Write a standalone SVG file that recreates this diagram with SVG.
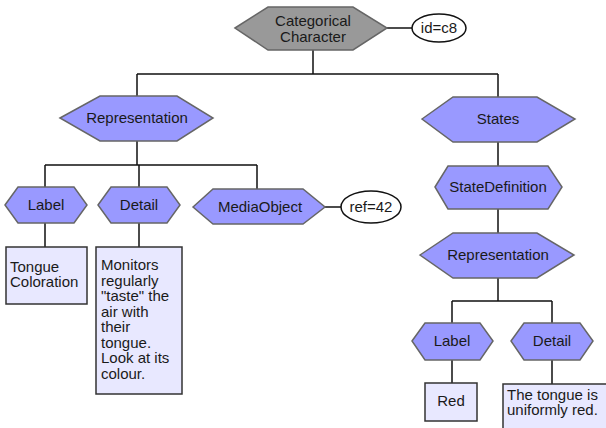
<svg xmlns="http://www.w3.org/2000/svg" width="606" height="428" viewBox="0 0 606 428">
<style>
.hex{fill:#9999ff;stroke:#666;stroke-width:1.5}
.top{fill:#999;stroke:#666;stroke-width:1.5}
.box{fill:#e8e8ff;stroke:#333;stroke-width:1.5}
.ell{fill:#fff;stroke:#111;stroke-width:1.5}
.t{font-family:"Liberation Sans",Arial,sans-serif;font-size:15px;fill:#1a1a1a}
.c{text-anchor:middle}
.ln{stroke:#111;stroke-width:1.5;fill:none}
</style>
<rect width="606" height="428" fill="#fff"/>
<g id="connectors">
<path class="ln" d="M387,28H412"/>
<path class="ln" d="M313,50V74M137,74H498M137,74V96M498,74V97"/>
<path class="ln" d="M137,141V165M45,165H257M45,165V187M139,165V187M257,165V189"/>
<path class="ln" d="M325,207H341"/>
<path class="ln" d="M45,223V247M139,223V247"/>
<path class="ln" d="M498,142V166M498,209V233M498,278V301M452,301H552M452,301V323M552,301V323"/>
<path class="ln" d="M452,360V383M552,360V384"/>
</g>
<g id="categorical">
<polygon class="top" points="235,28 268,7 353,7 387,28 353,50 268,50"/>
<text class="t c" x="313" y="26">Categorical</text>
<text class="t c" x="313" y="42">Character</text>
</g>
<g id="id-c8">
<ellipse class="ell" cx="439" cy="28" rx="27" ry="14"/>
<text class="t c" x="439" y="33">id=c8</text>
</g>
<g id="representation1">
<polygon class="hex" points="60,118 100,96 177,96 213,118 177,141 100,141"/>
<text class="t c" x="137" y="123">Representation</text>
</g>
<g id="label1">
<polygon class="hex" points="5,205 18,187 74,187 87,205 74,223 18,223"/>
<text class="t c" x="46" y="210">Label</text>
</g>
<g id="detail1">
<polygon class="hex" points="98,205 111,187 167,187 180,205 167,223 111,223"/>
<text class="t c" x="139" y="210">Detail</text>
</g>
<g id="mediaobject">
<polygon class="hex" points="193,207 213,189 303,189 325,207 303,224 213,224"/>
<text class="t c" x="260" y="212">MediaObject</text>
</g>
<g id="ref-42">
<ellipse class="ell" cx="371" cy="207" rx="30" ry="16"/>
<text class="t c" x="371" y="212">ref=42</text>
</g>
<g id="box-tongue">
<rect class="box" x="6" y="247" width="81" height="57"/>
<text class="t" x="10" y="271.5">Tongue</text>
<text class="t" x="10" y="287">Coloration</text>
</g>
<g id="box-monitors">
<rect class="box" x="96" y="247" width="86" height="147"/>
<text class="t" x="101" y="270">Monitors</text>
<text class="t" x="101" y="285.5">regularly</text>
<text class="t" x="101" y="301">"taste" the</text>
<text class="t" x="101" y="316.5">air with</text>
<text class="t" x="101" y="332">their</text>
<text class="t" x="101" y="347.5">tongue.</text>
<text class="t" x="101" y="363">Look at its</text>
<text class="t" x="101" y="378.5">colour.</text>
</g>
<g id="states">
<polygon class="hex" points="422,119 453,97 537,97 575,119 537,142 453,142"/>
<text class="t c" x="498" y="124">States</text>
</g>
<g id="statedefinition">
<polygon class="hex" points="435,187 448,166 548,166 562,187 548,209 448,209"/>
<text class="t c" x="498" y="192">StateDefinition</text>
</g>
<g id="representation2">
<polygon class="hex" points="420,255 453,233 537,233 574,255 537,278 453,278"/>
<text class="t c" x="498" y="260">Representation</text>
</g>
<g id="label2">
<polygon class="hex" points="412,341 425,323 480,323 493,341 480,360 425,360"/>
<text class="t c" x="452" y="346">Label</text>
</g>
<g id="detail2">
<polygon class="hex" points="511,341 524,323 580,323 593,341 580,360 524,360"/>
<text class="t c" x="552" y="346">Detail</text>
</g>
<g id="box-red">
<rect class="box" x="425" y="383" width="52" height="38"/>
<text class="t c" x="451" y="406">Red</text>
</g>
<g id="box-uniform">
<rect class="box" x="503" y="384" width="110" height="50"/>
<text class="t" x="507" y="399.5">The tongue is</text>
<text class="t" x="507" y="415">uniformly red.</text>
</g>
</svg>
